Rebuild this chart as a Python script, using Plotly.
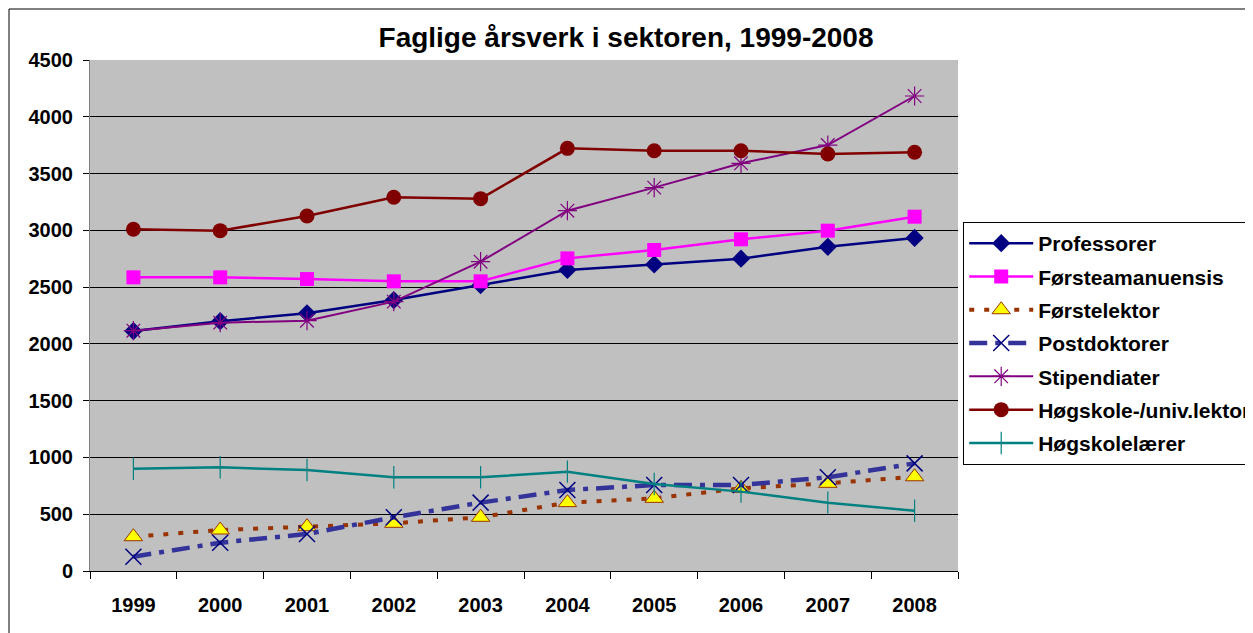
import plotly.graph_objects as go

# --- data ---
years = ["1999", "2000", "2001", "2002", "2003", "2004", "2005", "2006", "2007", "2008"]

professorer = [2113, 2200, 2270, 2386, 2518, 2651, 2700, 2750, 2855, 2933]
forsteamanuensis = [2586, 2586, 2571, 2551, 2551, 2753, 2827, 2921, 2997, 3120]
forstelektor = [302, 361, 390, 420, 473, 602, 640, 728, 772, 830]
postdoktorer = [126, 249, 326, 473, 602, 713, 757, 757, 825, 948]
stipendiater = [2116, 2187, 2204, 2372, 2724, 3173, 3376, 3590, 3751, 4183]
lektor = [3009, 2997, 3126, 3291, 3279, 3722, 3701, 3701, 3672, 3687]
hogskolelarer = [901, 913, 889, 825, 825, 875, 766, 699, 602, 531]

y_ticks = [0, 500, 1000, 1500, 2000, 2500, 3000, 3500, 4000, 4500]

FONT = "Liberation Sans, Arial, sans-serif"

fig = go.Figure()

def add_series(name, values, line, marker):
    fig.add_trace(go.Scatter(x=years, y=values, name=name, mode="lines+markers",
                             legendgroup=name, line=line, marker=marker))

add_series("Professorer", professorer,
           dict(color="#000080", width=2.5),
           dict(symbol="diamond", size=14, color="#000080"))
add_series("Førsteamanuensis", forsteamanuensis,
           dict(color="#FF00FF", width=2.5),
           dict(symbol="square", size=14, color="#FF00FF"))
add_series("Førstelektor", forstelektor,
           dict(color="#993300", width=4, dash="5px,10px"),
           dict(symbol="triangle-up", size=16, color="#FFFF00",
                line=dict(color="#993300", width=1)))
add_series("Postdoktorer", postdoktorer,
           dict(color="#333399", width=4.5, dash="18px,8px,5px,8px"),
           dict(symbol="x-thin-open", size=16, color="#000080",
                line=dict(color="#000080", width=1.5)))
add_series("Stipendiater", stipendiater,
           dict(color="#800080", width=2),
           dict(symbol="asterisk-open", size=16, color="#800080",
                line=dict(color="#800080", width=1.2)))
add_series("Høgskole-/univ.lektor", lektor,
           dict(color="#800000", width=2.5),
           dict(symbol="circle", size=15, color="#800000"))
add_series("Høgskolelærer", hogskolelarer,
           dict(color="#008080", width=2.5),
           dict(symbol="line-ns-open", size=16, color="#008080",
                line=dict(color="#008080", width=1.2)))

# page body has an 8px margin, so the figure is a bit smaller than the window
fig.update_layout(
    width=1245, height=625,
    margin=dict(l=82, r=295, t=52, b=62, autoexpand=False),
    paper_bgcolor="white",
    plot_bgcolor="#C0C0C0",
    font=dict(family=FONT, size=20, color="black"),
    title=dict(text="<b>Faglige årsverk i sektoren, 1999-2008</b>",
               x=0.4964, xref="container", xanchor="center",
               y=0.9536, yref="container", yanchor="middle",
               font=dict(size=28, color="black")),
    legend=dict(x=1.006, y=0.683, xanchor="left", yanchor="top",
                bgcolor="white", bordercolor="black", borderwidth=1,
                font=dict(size=21, color="black", family=FONT, weight="bold"),
                itemwidth=64, tracegroupgap=3),
    showlegend=True,
)

fig.update_xaxes(
    type="category", range=[-0.5, 9.5],
    showgrid=False, showline=True, linecolor="black", linewidth=1,
    ticks="outside", tickson="boundaries", ticklen=7, tickcolor="black",
    tickfont=dict(size=20, weight="bold"), ticklabelstandoff=16, zeroline=False,
)
fig.update_yaxes(
    range=[0, 4500], tickvals=y_ticks,
    showgrid=True, gridcolor="black", gridwidth=1,
    showline=True, linecolor="#808080", linewidth=1,
    ticks="outside", ticklen=6, tickcolor="black",
    tickfont=dict(size=20, weight="bold"), ticklabelstandoff=6, zeroline=False,
)

# outer chart frame
fig.add_shape(type="rect", xref="paper", yref="paper",
              x0=-81 / 868, x1=1.4, y0=-0.2, y1=1 + 51 / 511,
              line=dict(color="black", width=1), fillcolor="rgba(0,0,0,0)",
              layer="above")

fig.write_html("out.html")
